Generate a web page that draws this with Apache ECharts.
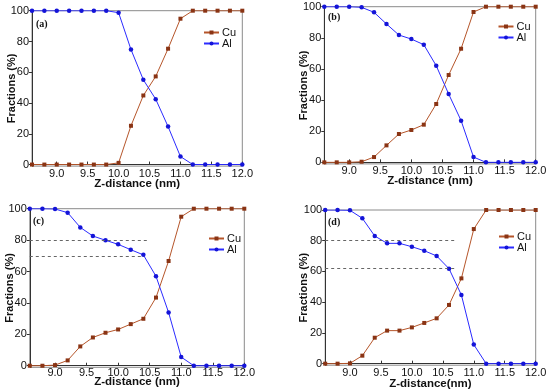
<!DOCTYPE html>
<html><head><meta charset="utf-8">
<script src="https://cdn.jsdelivr.net/npm/echarts@6/dist/echarts.min.js"></script>
<style>html,body{margin:0;padding:0;background:#fff}#c{width:550px;height:392px}</style>
</head><body><div id="c"></div>
<script>
// ---- data ----
const zDistance = [8.6, 8.8, 9.0, 9.2, 9.4, 9.6, 9.8, 10.0, 10.2, 10.4, 10.6, 10.8, 11.0, 11.2, 11.4, 11.6, 11.8, 12.0];
const xTicks = [9.0, 9.5, 10.0, 10.5, 11.0, 11.5, 12.0];
const yTicks = [0, 20, 40, 60, 80, 100];

const cuA = [0, 0, 0, 0, 0, 0, 0, 1.1, 25.2, 44.9, 57.3, 75.3, 94.8, 100, 100, 100, 100, 100];
const alA = [100, 100, 100, 100, 100, 100, 100, 98.7, 74.8, 55.1, 42.5, 24.7, 5.2, 0, 0, 0, 0, 0];

const cuB = [0, 0, 0, 0.4, 3.4, 10.9, 18.2, 20.8, 24.2, 37.5, 56.1, 73.0, 96.6, 100, 100, 100, 100, 100];
const alB = [100, 100, 100, 99.6, 96.4, 88.9, 81.8, 79.2, 75.6, 62.1, 43.9, 26.8, 3.4, 0, 0, 0, 0, 0];

const cuC = [0, 0, 0.4, 3.4, 12.3, 18.0, 21.0, 23.1, 26.5, 29.9, 43.4, 66.7, 94.9, 100, 100, 100, 100, 100];
const alC = [100, 100, 99.8, 97.5, 88.1, 82.6, 79.9, 77.3, 73.9, 70.6, 57.0, 33.9, 5.5, 0, 0, 0, 0, 0];

const cuD = [0, 0, 0.2, 5.2, 16.9, 21.5, 21.5, 23.6, 26.5, 29.5, 38.2, 55.5, 87.6, 100, 100, 100, 100, 100];
const alD = [100, 100, 99.8, 94.6, 83.1, 78.3, 78.3, 76.1, 73.5, 70.1, 61.8, 44.7, 12.4, 0, 0, 0, 0, 0];

// reference dashed lines: [y level, x end]
const refLinesC = [[80, 10.48], [70, 10.41]];
const refLinesD = [[80, 10.71], [62, 10.71]];

const panelLabels = ['(a)', '(b)', '(c)', '(d)'];
const xTitles = ['Z-distance (nm)', 'Z-distance (nm)', 'Z-distance (nm)', 'Z-distance(nm)'];
const yTitle = 'Fractions (%)';
const seriesNames = ['Cu', 'Al'];

// ---- layout ----
const grids = [
  {left: 32, top: 10.7, width: 210.3, height: 155.4},
  {left: 324.3, top: 6.7, width: 211.4, height: 157.2},
  {left: 29.8, top: 208.7, width: 214.5, height: 158.6},
  {left: 325.2, top: 210, width: 210.5, height: 155.2}
];
const legendPos = [[203, 27], [497.5, 21], [208, 233], [498, 231]];
const labelPos = [[36, 19], [328, 12], [33, 216], [328, 217]];
const yNameGap = [20.3, 20, 19.8, 20.9];
const xNameGap = [17.7, 17, 15, 19];
const xLabelMargin = [2, 1.5, 0, 2];

const cuColor = '#b5552a', cuMark = '#8a3414';
const alColor = '#2b2bff', alMark = '#1414d8';
const font = '"Liberation Sans", Arial, sans-serif';

const cuSets = [cuA, cuB, cuC, cuD];
const alSets = [alA, alB, alC, alD];
const refSets = [null, null, refLinesC, refLinesD];

const option = {
  animation: false,
  backgroundColor: '#fff',
  textStyle: {fontFamily: font},
  grid: [], xAxis: [], yAxis: [], series: [], legend: [], graphic: []
};

for (let i = 0; i < 4; i++) {
  option.grid.push(Object.assign({show: true, borderColor: '#8a8a8a', borderWidth: 1, containLabel: false, outerBoundsMode: 'none'}, grids[i]));
  option.xAxis.push({
    type: 'value', gridIndex: i, min: 8.6, max: 12.0,
    name: xTitles[i], nameLocation: 'middle', nameGap: xNameGap[i], nameMoveOverlap: false,
    nameTextStyle: {fontFamily: font, fontWeight: 'bold', fontSize: 11.5, color: '#111', verticalAlign: 'middle'},
    axisLine: {show: true, lineStyle: {color: '#333', width: 1}},
    axisTick: {show: true, inside: true, length: 3, customValues: xTicks, lineStyle: {color: '#333'}},
    axisLabel: {customValues: xTicks, formatter: v => v.toFixed(1), fontSize: 11, color: '#111', margin: xLabelMargin[i], fontFamily: font},
    splitLine: {show: false}
  });
  option.yAxis.push({
    type: 'value', gridIndex: i, min: -1, max: 100,
    name: yTitle, nameLocation: 'middle', nameGap: yNameGap[i], nameMoveOverlap: false,
    nameTextStyle: {fontFamily: font, fontWeight: 'bold', fontSize: 11, color: '#111', verticalAlign: 'middle'},
    axisLine: {show: true, lineStyle: {color: '#333', width: 1}},
    axisTick: {show: true, length: 3, customValues: yTicks, lineStyle: {color: '#333'}},
    axisLabel: {customValues: yTicks, fontSize: 11, color: '#111', margin: 3, fontFamily: font},
    splitLine: {show: false}
  });
  const cuSeries = {
    name: 'Cu', type: 'line', xAxisIndex: i, yAxisIndex: i,
    data: zDistance.map((x, k) => [x, cuSets[i][k]]),
    symbol: 'rect', symbolSize: 4, showSymbol: true,
    lineStyle: {color: cuColor, width: 1}, itemStyle: {color: cuMark}, z: 3
  };
  const alSeries = {
    name: 'Al', type: 'line', xAxisIndex: i, yAxisIndex: i,
    data: zDistance.map((x, k) => [x, alSets[i][k]]),
    symbol: 'circle', symbolSize: 4.5, showSymbol: true,
    lineStyle: {color: alColor, width: 1}, itemStyle: {color: alMark}, z: 4
  };
  if (refSets[i]) {
    alSeries.markLine = {
      silent: true, symbol: 'none', animation: false,
      label: {show: false},
      lineStyle: {type: [3, 3], color: '#666', width: 1},
      data: refSets[i].map(r => [{coord: [8.6, r[0]]}, {coord: [r[1], r[0]]}])
    };
  }
  option.series.push(cuSeries, alSeries);
  option.legend.push({
    data: seriesNames, orient: 'vertical', left: legendPos[i][0], top: legendPos[i][1],
    itemWidth: 15, itemHeight: 5, itemGap: 0, padding: 0,
    textStyle: {fontSize: 11, color: '#111', fontFamily: font, padding: [0, 0, 0, -2]},
    selectedMode: false
  });
  option.graphic.push({
    type: 'text', left: labelPos[i][0], top: labelPos[i][1],
    style: {text: panelLabels[i], font: 'bold 10px "Liberation Serif", "Times New Roman", serif', fill: '#111'}
  });
}

const chart = echarts.init(document.getElementById('c'), null, {renderer: 'canvas'});
chart.setOption(option);
</script>
</body></html>
